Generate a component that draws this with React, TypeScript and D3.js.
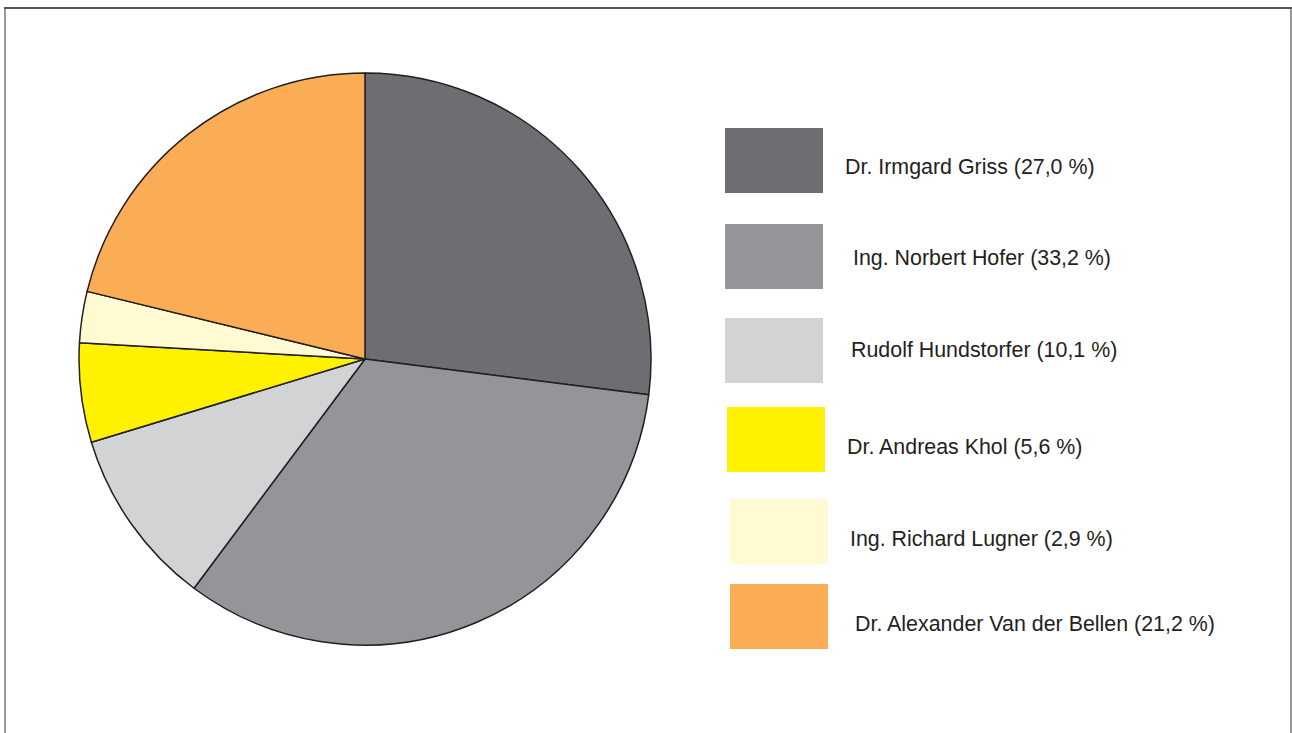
import { useEffect, useRef } from "react";
import * as d3 from "d3";

const candidates = [
  "Dr. Irmgard Griss",
  "Ing. Norbert Hofer",
  "Rudolf Hundstorfer",
  "Dr. Andreas Khol",
  "Ing. Richard Lugner",
  "Dr. Alexander Van der Bellen",
];
const shares = [27.0, 33.2, 10.1, 5.6, 2.9, 21.2];
const colors = ["#6d6e71", "#939598", "#d1d3d4", "#fff200", "#fffad1", "#fbad56"];

// legend placement in the source is slightly uneven, keep it as layout
const legendSwatch = [
  [725, 128], [725, 224], [725, 318], [727, 407], [730, 499], [730, 584],
];
const legendText = [
  [845, 174], [853, 265], [851, 357], [847, 454], [850, 546], [855, 631],
];

const W = 1292;
const H = 733;

export default function App() {
  const svgRef = useRef<SVGSVGElement>(null);

  useEffect(() => {
    if (!svgRef.current) return;
    const svg = d3.select(svgRef.current);
    svg.selectAll("*").remove();

    svg.append("rect")
      .attr("width", W)
      .attr("height", H)
      .attr("fill", "#fff");

    // frame
    svg.append("path")
      .attr("d", `M5,${H + 5} L5,8 L1291,8 L1291,${H + 5}`)
      .attr("fill", "none")
      .attr("stroke", "#9a9a9a")
      .attr("stroke-width", 2);
    svg.append("line")
      .attr("x1", 4).attr("x2", 1292)
      .attr("y1", 8).attr("y2", 8)
      .attr("stroke", "#555")
      .attr("stroke-width", 2);

    const cx = 365, cy = 359, r = 286;
    const data = candidates.map((name, i) => ({ name, value: shares[i], color: colors[i] }));

    const pie = d3.pie<typeof data[0]>()
      .value(d => d.value)
      .sort(null);
    const arc = d3.arc<d3.PieArcDatum<typeof data[0]>>()
      .innerRadius(0)
      .outerRadius(r);

    const g = svg.append("g").attr("transform", `translate(${cx},${cy})`);
    g.selectAll("path")
      .data(pie(data))
      .enter()
      .append("path")
      .attr("d", arc)
      .attr("fill", d => d.data.color)
      .attr("stroke", "#231f20")
      .attr("stroke-width", 1.5)
      .attr("stroke-linejoin", "round");

    const legend = svg.append("g");
    data.forEach((d, i) => {
      legend.append("rect")
        .attr("x", legendSwatch[i][0])
        .attr("y", legendSwatch[i][1])
        .attr("width", 98)
        .attr("height", 65)
        .attr("fill", d.color);
      legend.append("text")
        .attr("x", legendText[i][0])
        .attr("y", legendText[i][1])
        .attr("font-family", "'Liberation Sans', Arial, sans-serif")
        .attr("font-size", 21.4)
        .attr("fill", "#231f20")
        .text(`${d.name} (${d3.format(".1f")(d.value).replace(".", ",")} %)`);
    });
  }, []);

  return (
    <div style={{ position: "absolute", left: 0, top: 0, width: W, height: H, overflow: "hidden" }}>
      <svg ref={svgRef} width={W} height={H} style={{ display: "block" }} />
    </div>
  );
}
